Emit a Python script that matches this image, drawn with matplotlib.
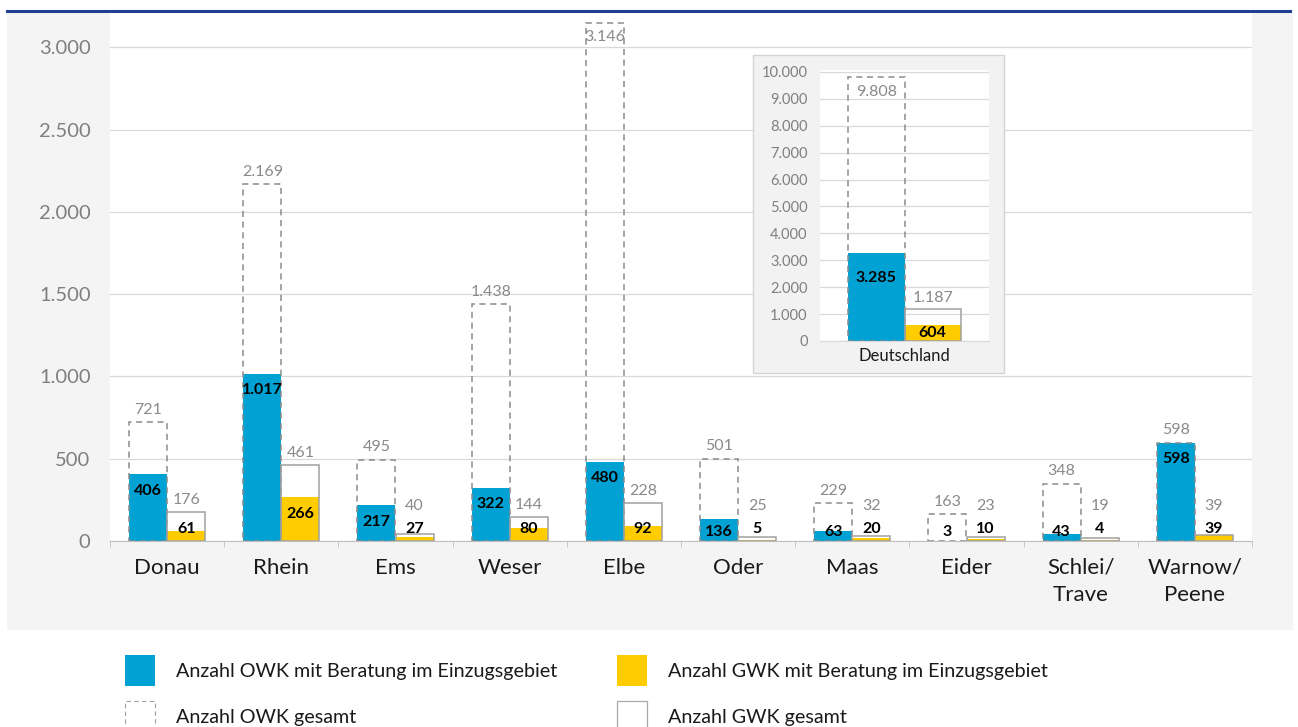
import matplotlib
matplotlib.use("Agg")
import matplotlib.pyplot as plt
from matplotlib.patches import Rectangle
from matplotlib.lines import Line2D
import numpy as np

plt.rcParams['font.family'] = ['Lato', 'DejaVu Sans']

# data
rivers = ["Donau", "Rhein", "Ems", "Weser", "Elbe", "Oder", "Maas", "Eider", "Schlei/\nTrave", "Warnow/\nPeene"]
owk_beratung = [406, 1017, 217, 322, 480, 136, 63, 3, 43, 598]
owk_gesamt = [721, 2169, 495, 1438, 3146, 501, 229, 163, 348, 598]
gwk_beratung = [61, 266, 27, 80, 92, 5, 20, 10, 4, 39]
gwk_gesamt = [176, 461, 40, 144, 228, 25, 32, 23, 19, 39]

de_label = ["Deutschland"]
de_owk_beratung = [3285]
de_owk_gesamt = [9808]
de_gwk_beratung = [604]
de_gwk_gesamt = [1187]

legend_labels = ["Anzahl OWK mit Beratung im Einzugsgebiet", "Anzahl OWK gesamt",
                 "Anzahl GWK mit Beratung im Einzugsgebiet", "Anzahl GWK gesamt"]

BLUE = "#00a2d3"
YELLOW = "#ffcc00"
GRAY_TXT = "#8a8a8a"
GRID = "#d9d9d9"
BG = "#f4f4f4"


def fmt(v):
    return f"{v:,}".replace(",", ".")


W, H = 1298, 727
fig = plt.figure(figsize=(W / 100, H / 100), dpi=100)
fig.patch.set_facecolor("white")

# grey panel + blue top rule
fig.patches.append(Rectangle((7 / W, 1 - 630 / H), 1286 / W, 617 / H, transform=fig.transFigure,
                             facecolor=BG, edgecolor="none", zorder=-5))
fig.add_artist(Line2D([7 / W, 1290 / W], [1 - 11 / H, 1 - 11 / H], color="#1f3f93", lw=2.2, zorder=-4))

ax = fig.add_axes([110 / W, 1 - 541 / H, 1142 / W, 528 / H], zorder=1)
ax.set_facecolor("white")
x = np.arange(len(rivers))
bw = 1 / 3
ymax = 3208
ax.set_xlim(-0.5, len(rivers) - 0.5)
ax.set_ylim(0, ymax)

ax.bar(x - bw / 2, owk_beratung, bw, color=BLUE, zorder=2)
ax.bar(x - bw / 2, owk_gesamt, bw, fill=False, edgecolor="#8c8c8c", linestyle=(0, (4, 3)), lw=1.1, zorder=3)
ax.bar(x + bw / 2, gwk_beratung, bw, color=YELLOW, zorder=2)
ax.bar(x + bw / 2, gwk_gesamt, bw, fill=False, edgecolor="#a0a0a0", lw=1.1, zorder=3)

ax.set_yticks(range(0, 3001, 500))
ax.set_yticklabels([fmt(v) for v in range(0, 3001, 500)], fontsize=14.5, color="#7f7f7f")
ax.set_xticks(x)
ax.set_xticklabels(rivers, fontsize=16, color="#1a1a1a", linespacing=1.45)
ax.set_xticks(np.arange(-0.5, len(rivers)), minor=True)
ax.tick_params(axis="y", length=0, pad=14)
ax.tick_params(axis="x", which="major", length=0, pad=12)
ax.tick_params(axis="x", which="minor", length=4, color="#bfbfbf")
ax.grid(axis="y", color=GRID, lw=0.9, zorder=0)
ax.set_axisbelow(True)
for s in ["top", "right", "left"]:
    ax.spines[s].set_visible(False)
ax.spines["bottom"].set_color("#bfbfbf")

for i in range(len(rivers)):
    # OWK
    t = owk_gesamt[i]
    ty = t + 75 if t + 150 < ymax else t - 85
    ax.text(x[i] - bw / 2, ty, fmt(t), ha="center", va="center", fontsize=11.5, color=GRAY_TXT, zorder=5)
    v = owk_beratung[i]
    ax.text(x[i] - bw / 2, max(v - 100, 55), fmt(v), ha="center", va="center", fontsize=11.5,
            fontweight="bold", color="black", zorder=5)
    # GWK
    t = gwk_gesamt[i]
    ax.text(x[i] + bw / 2, max(t, 140) + 75, fmt(t), ha="center", va="center", fontsize=11.5,
            color=GRAY_TXT, zorder=5)
    v = gwk_beratung[i]
    ax.text(x[i] + bw / 2, max(v - 100, 75), fmt(v), ha="center", va="center", fontsize=11.5,
            fontweight="bold", color="black", zorder=5)

# inset for Germany
fig.patches.append(Rectangle((753 / W, 1 - 373 / H), 251 / W, 318 / H, transform=fig.transFigure,
                             facecolor="#f2f2f2", edgecolor="#d4d4d4", lw=1, zorder=2))
ins = fig.add_axes([820 / W, 1 - 341 / H, 169 / W, 271 / H], zorder=3)
ins.set_facecolor("white")
ins.set_xlim(-0.5, 0.5)
ins.set_ylim(0, 10070)
ins.bar([-bw / 2], de_owk_beratung, bw, color=BLUE, zorder=2)
ins.bar([-bw / 2], de_owk_gesamt, bw, fill=False, edgecolor="#8c8c8c", linestyle=(0, (4, 3)), lw=1.1, zorder=3)
ins.bar([bw / 2], de_gwk_beratung, bw, color=YELLOW, zorder=2)
ins.bar([bw / 2], de_gwk_gesamt, bw, fill=False, edgecolor="#a0a0a0", lw=1.1, zorder=3)
ins.set_yticks(range(0, 10001, 1000))
ins.set_yticklabels([fmt(v) for v in range(0, 10001, 1000)], fontsize=10.5, color="#7f7f7f")
ins.set_xticks([0])
ins.set_xticklabels(de_label, fontsize=12, color="#1a1a1a")
ins.tick_params(length=0)
ins.tick_params(axis="y", pad=9)
ins.tick_params(axis="x", pad=5)
ins.grid(axis="y", color=GRID, lw=0.9, zorder=0)
ins.set_axisbelow(True)
for s in ["top", "right", "left"]:
    ins.spines[s].set_visible(False)
ins.spines["bottom"].set_color(GRID)

ins.annotate(fmt(de_owk_gesamt[0]), (-bw / 2, de_owk_gesamt[0]), xytext=(0, -11), textcoords="offset points",
             ha="center", va="center", fontsize=11.5, color=GRAY_TXT)
ins.annotate(fmt(de_owk_beratung[0]), (-bw / 2, de_owk_beratung[0]), xytext=(0, -18), textcoords="offset points",
             ha="center", va="center", fontsize=11.5, fontweight="bold")
ins.annotate(fmt(de_gwk_gesamt[0]), (bw / 2, de_gwk_gesamt[0]), xytext=(0, 8), textcoords="offset points",
             ha="center", va="center", fontsize=11.5, color=GRAY_TXT)
ins.annotate(fmt(de_gwk_beratung[0]), (bw / 2, de_gwk_beratung[0]), xytext=(0, -6), textcoords="offset points",
             ha="center", va="center", fontsize=11.5, fontweight="bold")

# legend, drawn by hand so the squares sit where the original has them
leg_styles = [dict(facecolor=BLUE, edgecolor="none"),
              dict(facecolor="white", edgecolor="#a0a0a0", linestyle=(0, (4, 3)), lw=0.8),
              dict(facecolor=YELLOW, edgecolor="none"),
              dict(facecolor="white", edgecolor="#a8a8a8", lw=0.9)]
col_x = [125, 617]
row_y = [655, 701]
for k, (lab, st) in enumerate(zip(legend_labels, leg_styles)):
    cx = col_x[k // 2]
    ry = row_y[k % 2]
    fig.patches.append(Rectangle((cx / W, 1 - (ry + 31) / H), 30 / W, 31 / H, transform=fig.transFigure, **st))
    fig.text((cx + 51) / W, 1 - (ry + 16) / H, lab, ha="left", va="center", fontsize=14.2, color="#1a1a1a")

fig.savefig("out.png", dpi=100)
